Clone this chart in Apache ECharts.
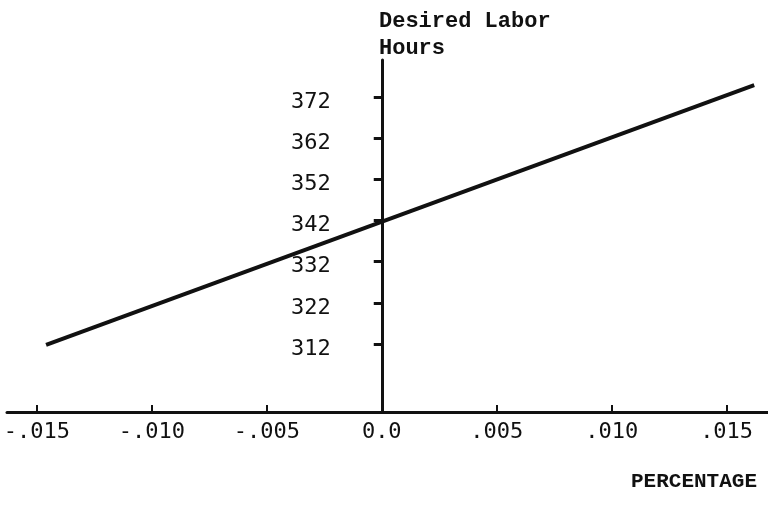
<!DOCTYPE html>
<html>
<head>
<meta charset="UTF-8">
<title>Desired Labor Hours</title>
<style>
  html, body { margin: 0; padding: 0; background: #fff; }
  #main { width: 768px; height: 505px; }
</style>
</head>
<body>
<div id="main"></div>
<script src="https://cdn.jsdelivr.net/npm/echarts@6/dist/echarts.min.js"></script>
<script>
// line endpoints
var lineX = [-0.0146, 0.0162];
var lineY = [311.8, 374.9];

// axis ticks and their printed labels
var xTickValues = [-0.015, -0.010, -0.005, 0, 0.005, 0.010, 0.015];
var xTickLabels = ['-.015', '-.010', '-.005', '0.0', '.005', '.010', '.015'];
var yTickValues = [312, 322, 332, 342, 352, 362, 372];

var yTitle = 'Desired Labor\nHours';
var xTitle = 'PERCENTAGE';

var xMin = -0.0163, xMax = 0.0168;
var gridLeft = 7, gridWidth = 761;

var chart = echarts.init(document.getElementById('main'));

var points = [];
for (var i = 0; i < lineX.length; i++) {
  points.push([lineX[i], lineY[i]]);
}

function xLabel(v) {
  for (var i = 0; i < xTickValues.length; i++) {
    if (Math.abs(xTickValues[i] - v) < 1e-9) return xTickLabels[i];
  }
  return '';
}

// y axis sits at x = 0; move it there from the grid's left edge
var zeroOffset = (0 - xMin) / (xMax - xMin) * gridWidth;

chart.setOption({
  animation: false,
  backgroundColor: '#fff',
  title: [
    {
      text: yTitle,
      left: 374, top: 3,
      textStyle: { fontFamily: 'Liberation Mono', fontWeight: 'bold', fontSize: 22, lineHeight: 27, color: '#111' }
    },
    {
      text: xTitle,
      left: 626, top: 466,
      textStyle: { fontFamily: 'Liberation Mono', fontWeight: 'bold', fontSize: 21, color: '#111' }
    }
  ],
  grid: { left: gridLeft, width: gridWidth, top: 60, bottom: 93, outerBoundsMode: 'none', containLabel: false },
  xAxis: {
    type: 'value',
    min: xMin, max: xMax,
    splitLine: { show: false },
    axisLine: { onZero: false, lineStyle: { color: '#111', width: 3 } },
    axisTick: { inside: true, length: 7, customValues: xTickValues, lineStyle: { color: '#111', width: 2 } },
    axisLabel: {
      customValues: xTickValues,
      formatter: xLabel,
      margin: 9,
      fontFamily: 'DejaVu Sans Mono', fontSize: 22, color: '#111'
    }
  },
  yAxis: {
    type: 'value',
    min: 295.5, max: 381,
    offset: -zeroOffset,
    splitLine: { show: false },
    axisLine: { onZero: false, lineStyle: { color: '#111', width: 3 } },
    axisTick: { length: 8, customValues: yTickValues, lineStyle: { color: '#111', width: 3 } },
    axisLabel: {
      customValues: yTickValues,
      margin: 51,
      verticalAlign: 'top',
      padding: [-6, 0, 0, 0],
      fontFamily: 'DejaVu Sans Mono', fontSize: 22, color: '#111'
    }
  },
  series: [{
    type: 'line',
    data: points,
    symbol: 'none',
    lineStyle: { color: '#111', width: 4 }
  }]
});
</script>
</body>
</html>
